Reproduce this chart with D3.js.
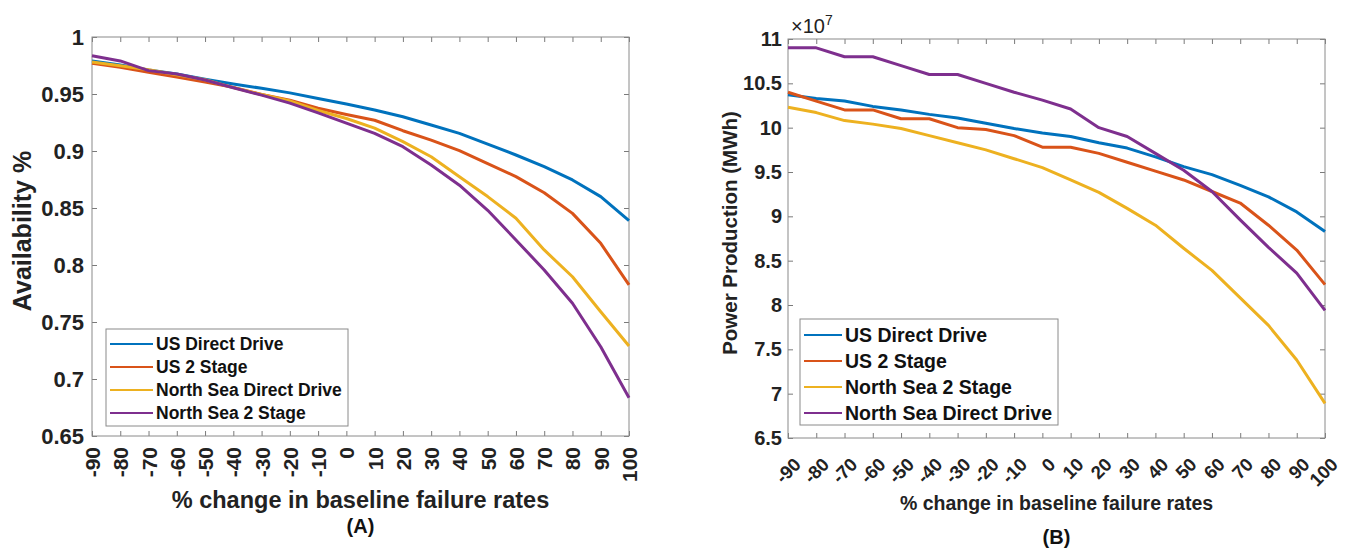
<!DOCTYPE html>
<html>
<head>
<meta charset="utf-8">
<script src="https://cdn.jsdelivr.net/npm/d3@7"></script>
<style>
  body { margin: 0; background: #fff; }
  svg { display: block; font-family: "Liberation Sans", Arial, sans-serif; }
  .tick line { stroke: #7a7a7a; }
  .tick text { fill: #222; font-weight: bold; }
</style>
</head>
<body>
<svg id="chart" width="1349" height="549"></svg>
<script>
// x: % change in baseline failure rates
const failureChange = [-90, -80, -70, -60, -50, -40, -30, -20, -10, 0, 10, 20, 30, 40, 50, 60, 70, 80, 90, 100];

// (A) availability
const availUSDirect = [0.979, 0.9754, 0.971, 0.9675, 0.963, 0.9588, 0.955, 0.951, 0.946, 0.9412, 0.936, 0.930, 0.9228, 0.9155, 0.906, 0.8965, 0.8862, 0.8746, 0.86, 0.8389];
const availUS2Stage = [0.977, 0.9735, 0.969, 0.9648, 0.9605, 0.9558, 0.9495, 0.9445, 0.9375, 0.932, 0.927, 0.9178, 0.9096, 0.9003, 0.889, 0.8775, 0.8634, 0.8453, 0.819, 0.7825];
const availNSDirect = [0.978, 0.9748, 0.9712, 0.9668, 0.9625, 0.9556, 0.9495, 0.944, 0.9355, 0.9285, 0.92, 0.9082, 0.895, 0.8775, 0.86, 0.841, 0.8132, 0.7897, 0.759, 0.729];
const availNS2Stage = [0.9836, 0.979, 0.9705, 0.9675, 0.9623, 0.9555, 0.949, 0.942, 0.9335, 0.9245, 0.9155, 0.9038, 0.8877, 0.870, 0.848, 0.822, 0.7956, 0.7664, 0.7283, 0.6836];
const availTicks = [0.65, 0.7, 0.75, 0.8, 0.85, 0.9, 0.95, 1];
const availNames = ["US Direct Drive", "US 2 Stage", "North Sea Direct Drive", "North Sea 2 Stage"];

// (B) power production, in units of 10^7 MWh
const powerUSDirect = [10.37, 10.33, 10.30, 10.24, 10.20, 10.15, 10.11, 10.05, 9.99, 9.94, 9.90, 9.83, 9.77, 9.67, 9.56, 9.47, 9.35, 9.22, 9.05, 8.83];
const powerUS2Stage = [10.40, 10.30, 10.20, 10.20, 10.10, 10.10, 10.00, 9.98, 9.91, 9.78, 9.78, 9.71, 9.61, 9.51, 9.41, 9.28, 9.15, 8.90, 8.62, 8.23];
const powerNS2Stage = [10.23, 10.17, 10.08, 10.04, 9.99, 9.91, 9.83, 9.75, 9.65, 9.55, 9.41, 9.27, 9.09, 8.90, 8.64, 8.39, 8.08, 7.77, 7.38, 6.89];
const powerNSDirect = [10.9, 10.9, 10.8, 10.8, 10.7, 10.6, 10.6, 10.5, 10.4, 10.31, 10.21, 10.0, 9.9, 9.71, 9.52, 9.28, 8.96, 8.65, 8.36, 7.94];
const powerTicks = [6.5, 7, 7.5, 8, 8.5, 9, 9.5, 10, 10.5, 11];
const powerNames = ["US Direct Drive", "US 2 Stage", "North Sea 2 Stage", "North Sea Direct Drive"];

const colors = ["#0072BD", "#D95319", "#EDB120", "#7E2F8E"];

const svg = d3.select('#chart');

function drawPanel(p) {
    const x = d3.scaleLinear().domain([-90, 100]).range([p.left, p.right]);
    const y = d3.scaleLinear().domain(p.yDomain).range([p.bottom, p.top]);
    const g = svg.append('g');

    // axes with inward ticks on all four sides
    const bottom = g.append('g')
        .attr('transform', `translate(0,${p.bottom})`)
        .call(d3.axisBottom(x).tickValues(failureChange).tickSize(-5).tickPadding(0).tickFormat(d => String(d)));
    g.append('g')
        .attr('transform', `translate(0,${p.top})`)
        .call(d3.axisTop(x).tickValues(failureChange).tickSize(-5).tickFormat(''));
    g.append('g')
        .attr('transform', `translate(${p.left},0)`)
        .call(d3.axisLeft(y).tickValues(p.yTicks).tickSize(-5).tickPadding(p.yPad).tickFormat(d => String(d)))
        .selectAll('.tick text').style('font-size', p.yFont + 'px');
    g.append('g')
        .attr('transform', `translate(${p.right},0)`)
        .call(d3.axisRight(y).tickValues(p.yTicks).tickSize(-5).tickFormat(''));
    g.selectAll('.domain').remove();

    bottom.selectAll('.tick text')
        .style('font-size', p.xFont + 'px')
        .attr('text-anchor', 'end')
        .attr('dy', null)
        .attr('y', null)
        .attr('dominant-baseline', p.xRotate === -90 ? 'central' : 'hanging')
        .attr('transform', `translate(${p.xLabelDx},${p.xLabelDy}) rotate(${p.xRotate})`);

    g.append('rect')
        .attr('x', p.left).attr('y', p.top)
        .attr('width', p.right - p.left).attr('height', p.bottom - p.top)
        .attr('fill', 'none').attr('stroke', '#8a8a8a').attr('stroke-width', 1);

    const line = d3.line().x((d, i) => x(failureChange[i])).y(d => y(d));
    p.series.forEach((s, i) => {
        g.append('path')
            .datum(s)
            .attr('d', line)
            .attr('fill', 'none')
            .attr('stroke', colors[i])
            .attr('stroke-width', 3)
            .attr('stroke-linejoin', 'round');
    });

    // legend
    const lg = g.append('g');
    lg.append('rect')
        .attr('x', p.legend.x).attr('y', p.legend.y)
        .attr('width', p.legend.w).attr('height', p.legend.h)
        .attr('fill', '#fff').attr('stroke', '#8a8a8a');
    p.names.forEach((name, i) => {
        const ry = p.legend.y + p.legend.first + i * p.legend.step;
        lg.append('line')
            .attr('x1', p.legend.x + 4).attr('x2', p.legend.x + p.legend.sample)
            .attr('y1', ry).attr('y2', ry)
            .attr('stroke', colors[i]).attr('stroke-width', 2);
        lg.append('text')
            .attr('x', p.legend.x + p.legend.sample + 3).attr('y', ry)
            .attr('dominant-baseline', 'central')
            .style('font-size', p.legend.font + 'px')
            .style('font-weight', 'bold')
            .attr('fill', '#111')
            .text(name);
    });

    // titles
    g.append('text')
        .attr('transform', `translate(${p.yTitleX},${p.yTitleY}) rotate(-90)`)
        .attr('text-anchor', 'middle')
        .attr('dominant-baseline', 'central')
        .style('font-size', p.yTitleFont + 'px')
        .style('font-weight', 'bold')
        .attr('fill', '#222')
        .text(p.yTitle);
    g.append('text')
        .attr('x', (p.left + p.right) / 2).attr('y', p.xTitleY)
        .attr('text-anchor', 'middle')
        .style('font-size', p.xTitleFont + 'px')
        .style('font-weight', 'bold')
        .attr('fill', '#222')
        .text('% change in baseline failure rates');
    g.append('text')
        .attr('x', (p.left + p.right) / 2).attr('y', p.panelY)
        .attr('text-anchor', 'middle')
        .style('font-size', p.panelFont + 'px')
        .style('font-weight', 'bold')
        .attr('fill', '#111')
        .text(p.panel);
    return g;
}

drawPanel({
    left: 92, right: 629, top: 37, bottom: 436,
    yDomain: [0.65, 1], yTicks: availTicks, yFont: 22, yPad: 8,
    xFont: 21, xRotate: -90, xLabelDx: 0, xLabelDy: 11,
    series: [availUSDirect, availUS2Stage, availNSDirect, availNS2Stage],
    names: availNames,
    legend: { x: 106, y: 329, w: 242, h: 97, first: 15, step: 23, sample: 47, font: 17.5 },
    yTitle: 'Availability %', yTitleX: 22, yTitleY: 231, yTitleFont: 25,
    xTitleY: 508, xTitleFont: 23.5,
    panel: '(A)', panelY: 533, panelFont: 20
});

const gB = drawPanel({
    left: 788, right: 1325, top: 39, bottom: 438,
    yDomain: [6.5, 11], yTicks: powerTicks, yFont: 20, yPad: 6,
    xFont: 18.5, xRotate: -45, xLabelDx: 4, xLabelDy: 18,
    series: [powerUSDirect, powerUS2Stage, powerNS2Stage, powerNSDirect],
    names: powerNames,
    legend: { x: 800, y: 319, w: 258, h: 106, first: 16, step: 26, sample: 42, font: 19.5 },
    yTitle: 'Power Production (MWh)', yTitleX: 729, yTitleY: 233, yTitleFont: 20.5,
    xTitleY: 510, xTitleFont: 19.5,
    panel: '(B)', panelY: 544, panelFont: 20
});

// exponent label
const expo = gB.append('text')
    .attr('x', 791).attr('y', 33)
    .style('font-size', '20px')
    .attr('fill', '#222');
expo.append('tspan').text('\u00d710');
expo.append('tspan').attr('dy', -8).style('font-size', '14px').text('7');
</script>
</body>
</html>
